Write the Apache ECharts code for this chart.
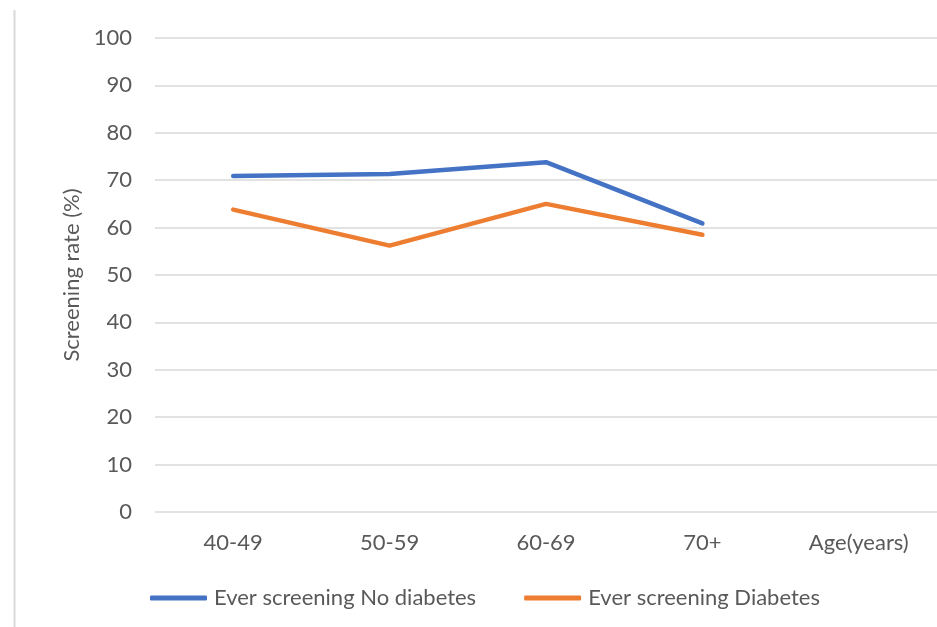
<!DOCTYPE html>
<html>
<head>
<meta charset="utf-8">
<script src="https://cdn.jsdelivr.net/npm/echarts@6/dist/echarts.min.js"></script>
<style>
  html, body { margin: 0; padding: 0; background: #fff; }
  #chart { width: 937px; height: 627px; }
</style>
</head>
<body>
<div id="chart"></div>
<script>
// Age groups (the last category is the axis title slot, no data)
const categories = ['40-49', '50-59', '60-69', '70+', 'Age(years)'];
// Screening rate (%) by age group
const noDiabetes = [70.9, 71.3, 73.8, 60.9, null];
const diabetes = [63.8, 56.2, 65.0, 58.5, null];
const yTicks = { min: 0, max: 100, interval: 10 };

const FONT = 'Lato, "Open Sans", sans-serif';
const FS = 22;
const TEXT = '#595959';
const GRID = '#d9d9d9';

const chart = echarts.init(document.getElementById('chart'), null, { renderer: 'canvas' });

chart.setOption({
  backgroundColor: '#ffffff',
  animation: false,
  textStyle: { fontFamily: FONT, color: TEXT, fontSize: FS },
  grid: { left: 155, top: 38, width: 787, height: 474, containLabel: false },
  xAxis: {
    type: 'category',
    data: categories,
    boundaryGap: true,
    axisLine: { show: false },
    axisTick: { show: false },
    axisLabel: { color: TEXT, fontSize: FS, fontFamily: FONT, margin: 20 }
  },
  yAxis: {
    type: 'value',
    min: yTicks.min,
    max: yTicks.max,
    interval: yTicks.interval,
    name: 'Screening rate (%)',
    nameLocation: 'middle',
    nameGap: 70,
    nameRotate: 90,
    nameTextStyle: { color: TEXT, fontSize: FS, fontFamily: FONT },
    axisLine: { show: false },
    axisTick: { show: false },
    axisLabel: { color: TEXT, fontSize: FS, fontFamily: FONT, margin: 23 },
    splitLine: { lineStyle: { color: GRID, width: 1.5 } }
  },
  legend: {
    left: 145,
    top: 582,
    itemGap: 48,
    itemWidth: 57,
    itemHeight: 5,
    textStyle: { color: TEXT, fontSize: FS, fontFamily: FONT, padding: [0, 0, 0, 2] },
    data: [
      { name: 'Ever screening No diabetes', icon: 'roundRect' },
      { name: 'Ever screening Diabetes', icon: 'roundRect' }
    ]
  },
  series: [
    {
      name: 'Ever screening No diabetes',
      type: 'line',
      data: noDiabetes,
      showSymbol: false,
      symbol: 'none',
      color: '#4472C4',
      lineStyle: { color: '#4472C4', width: 4.5, cap: 'round', join: 'round' }
    },
    {
      name: 'Ever screening Diabetes',
      type: 'line',
      data: diabetes,
      showSymbol: false,
      symbol: 'none',
      color: '#ED7D31',
      lineStyle: { color: '#ED7D31', width: 4.5, cap: 'round', join: 'round' }
    }
  ],
  graphic: [
    {
      type: 'line',
      shape: { x1: 14.5, y1: 10, x2: 14.5, y2: 627 },
      style: { stroke: GRID, lineWidth: 2 },
      silent: true
    }
  ]
});
</script>
</body>
</html>
